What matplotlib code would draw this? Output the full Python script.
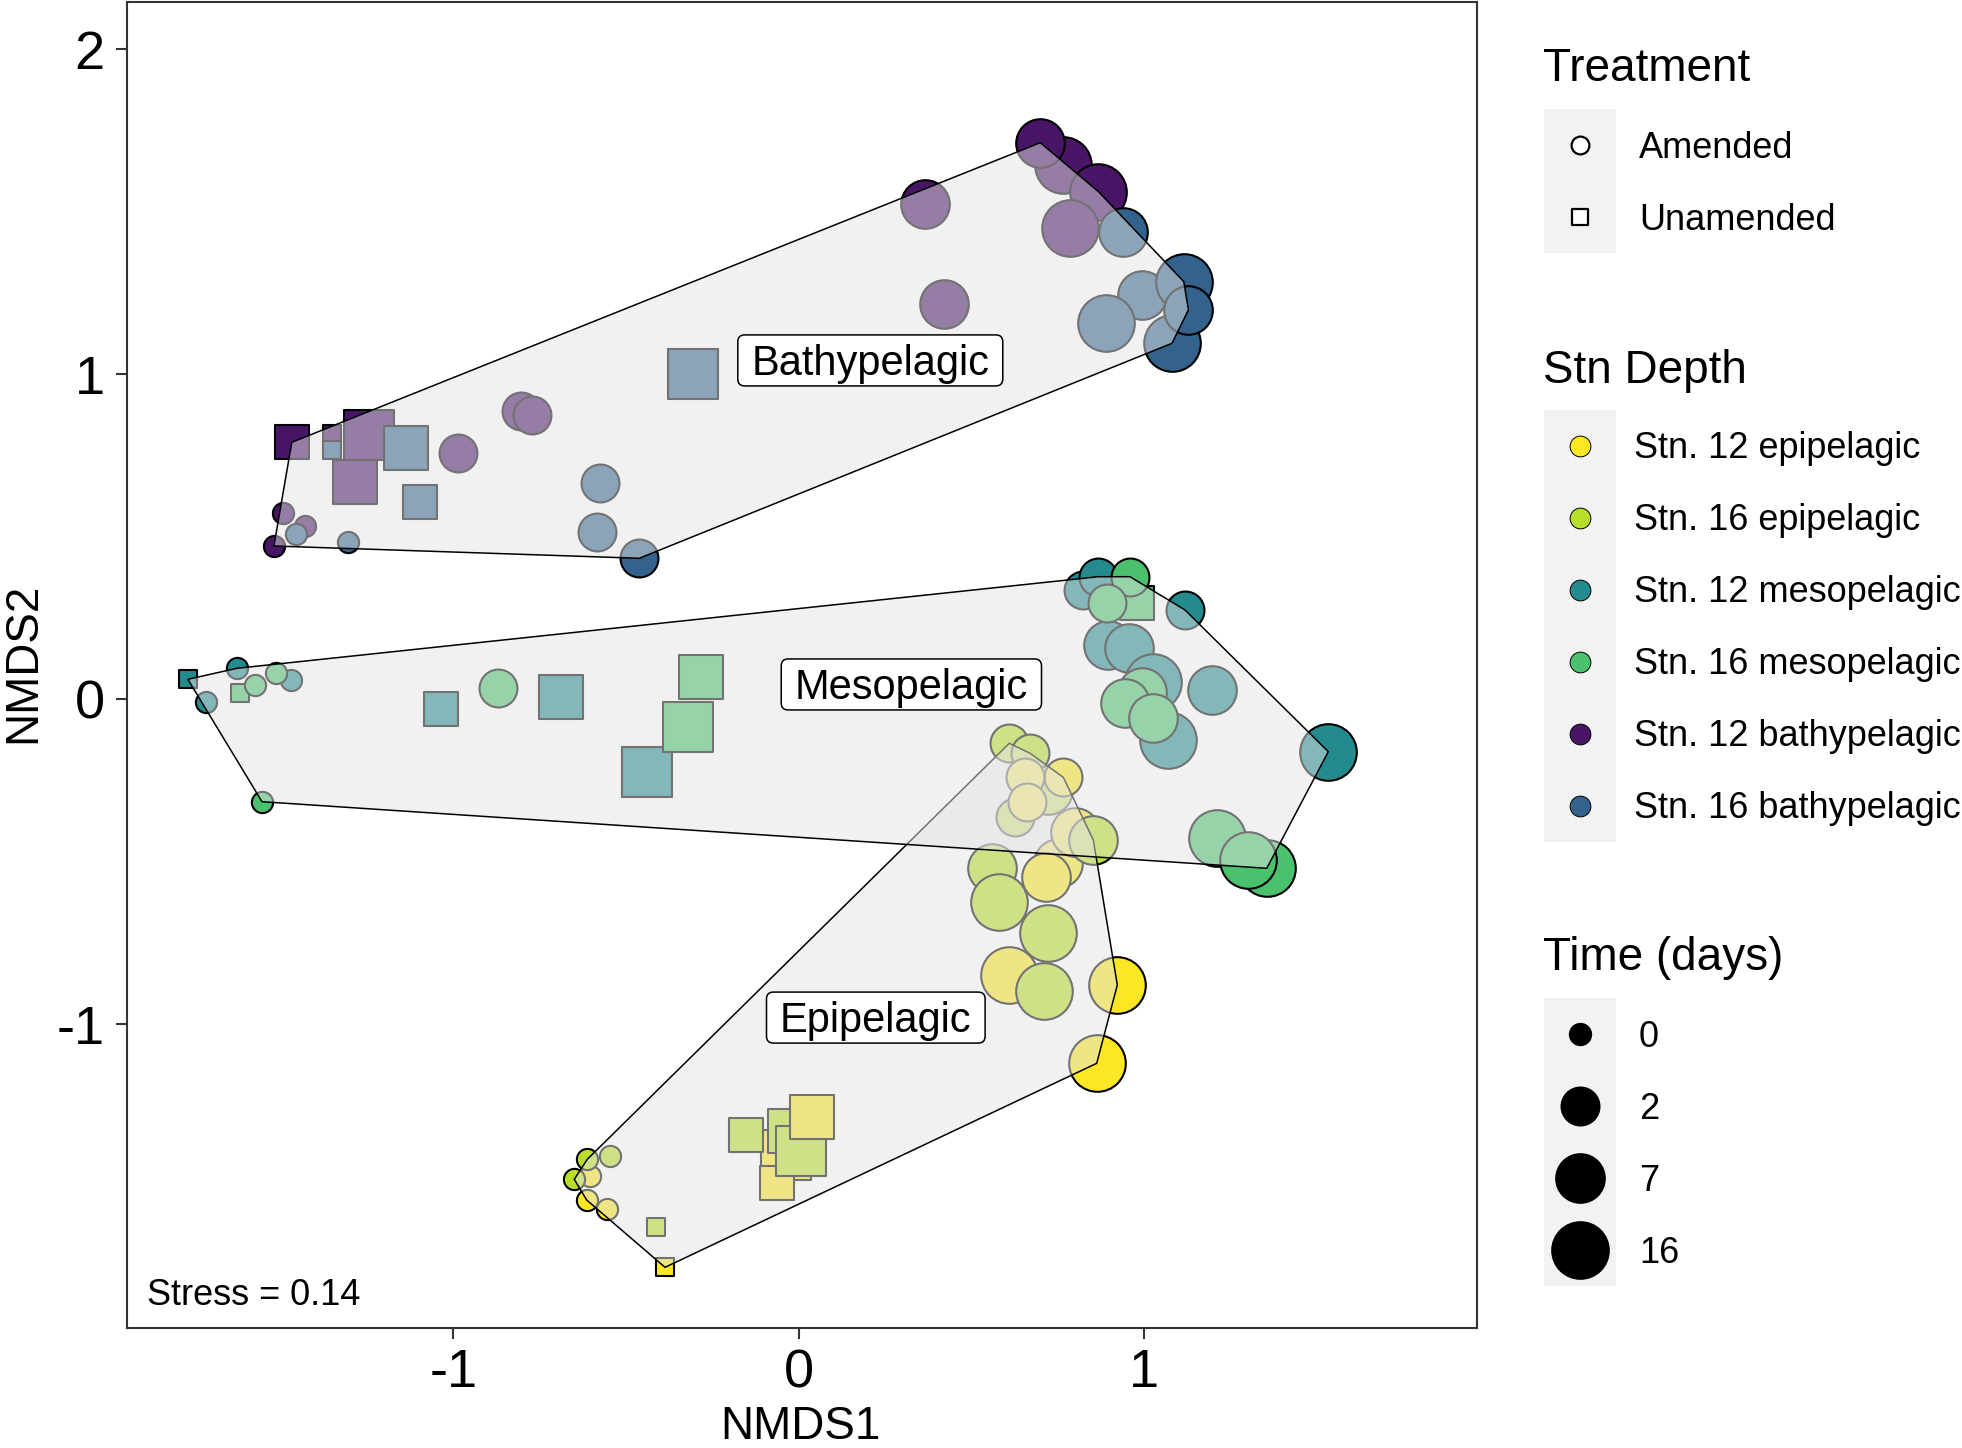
import matplotlib
matplotlib.use("Agg")
import matplotlib.pyplot as plt
from matplotlib.patches import Polygon, FancyBboxPatch, Rectangle
import numpy as np

plt.rcParams['font.family'] = ['Liberation Sans', 'DejaVu Sans']

# ---------------- data ----------------
zone_names = {"epi": "Epipelagic", "meso": "Mesopelagic", "bathy": "Bathypelagic"}
stn_levels = [(12, "epi"), (16, "epi"), (12, "meso"), (16, "meso"), (12, "bathy"), (16, "bathy")]
stn_colors = ["#FDE725", "#B8DE29", "#238A8D", "#4AC16D", "#481567", "#33638D"]
treatment_levels = ["Amended", "Unamended"]
time_levels = [0, 2, 7, 16]

zone_label_text = ["Bathypelagic", "Mesopelagic", "Epipelagic"]
zone_label_x = [0.207, 0.326, 0.223]
zone_label_y = [1.043, 0.046, -0.979]
stress_value = 0.14

# NMDS scores (drawing order)
nmds1 = [
    -1.4926, -1.4295, -1.5201, -0.9861, -0.8054, -0.7721, 0.7660, 0.6994, 0.8679, 0.7848, 0.3658, 0.4214,
    -1.4683, -1.3530, -1.2453, -1.2853,
    -1.3507, -1.1379, -1.0970, -0.3067,
    -1.4570, -1.3052, -0.5760, -0.5838, -0.4619, 0.9930, 0.9401, 0.8902, 1.1150, 1.0808, 1.1283,
    -1.7692, -1.0376, -0.6898, -0.4390,
    -1.6270, -1.7162, -1.4706, 0.8239, 0.8674, 1.1184, 0.8963, 0.9571, 1.1958, 1.0266, 1.0683, 1.5334,
    -1.6169, 0.9786, -0.2824, -0.3200,
    -1.5754, -1.5132, -1.5546, -0.8708, 0.9592, 0.8917, 0.9930, 0.9447, 1.0249, 1.2103, 1.3551, 1.3018,
    -0.0362, -0.1535, -0.0255, -0.0631, 0.0072, 0.0391, -0.3875, -0.4144,
    -0.6047, -0.6143, -0.5563, -0.6125, -0.5468, -0.6502,
    0.6096, 0.6696, 0.6261, 0.7226,
    0.7660, 0.6551, 0.6600, 0.7515, 0.7159, 0.7999,
    0.5586, 0.8529, 0.6096, 0.9224, 0.8627, 0.5806, 0.7226, 0.7101,
]
nmds2 = [
    0.5726, 0.5345, 0.4720, 0.7572, 0.8874, 0.8742, 1.6443, 1.7129, 1.5622, 1.4495, 1.5234, 1.2166,
    0.7911, 0.8157, 0.8145, 0.6689,
    0.7665, 0.7745, 0.6065, 1.0012,
    0.5089, 0.4834, 0.6668, 0.5160, 0.4342, 1.2443, 1.4391, 1.1591, 1.2852, 1.0957, 1.1982,
    0.0618, -0.0305, 0.0065, -0.2243,
    0.0957, -0.0071, 0.0597, 0.3366, 0.3775, 0.2751, 0.1674, 0.1572, 0.0289, 0.0545, -0.1249, -0.1609,
    0.0206, 0.2957, 0.0680, -0.0840,
    0.0443, 0.0803, -0.3148, 0.0342, 0.3775, 0.2957, 0.0237, -0.0120, -0.0582, -0.4274, -0.5197, -0.4942,
    -1.4028, -1.3412, -1.3289, -1.4889, -1.3905, -1.2849, -1.7474, -1.6243,
    -1.4655, -1.5403, -1.5689, -1.4151, -1.4049, -1.4766,
    -0.1351, -0.1658, -0.3609, -0.2788,
    -0.2397, -0.2397, -0.3148, -0.5043, -0.5455, -0.4071,
    -0.5197, -0.4326, -0.8480, -0.8788, -1.1197, -0.6225, -0.7178, -0.8963,
]
station = [
    12, 12, 12, 12, 12, 12, 12, 12, 12, 12, 12, 12,
    12, 12, 12, 12,
    16, 16, 16, 16,
    16, 16, 16, 16, 16, 16, 16, 16, 16, 16, 16,
    12, 12, 12, 12,
    12, 12, 12, 12, 12, 12, 12, 12, 12, 12, 12, 12,
    16, 16, 16, 16,
    16, 16, 16, 16, 16, 16, 16, 16, 16, 16, 16, 16,
    12, 16, 16, 12, 16, 12, 12, 16,
    12, 12, 12, 16, 16, 16,
    16, 16, 16, 16,
    12, 12, 12, 12, 12, 12,
    16, 16, 12, 12, 12, 16, 16, 16,
]
zone = (["bathy"] * 31) + (["meso"] * 32) + (["epi"] * 32)
treatment = (
    ["Amended"] * 12 + ["Unamended"] * 8 + ["Amended"] * 11 +
    ["Unamended"] * 4 + ["Amended"] * 12 + ["Unamended"] * 4 + ["Amended"] * 12 +
    ["Unamended"] * 8 + ["Amended"] * 24
)
time_days = [
    0, 0, 0, 2, 2, 2, 16, 7, 16, 16, 7, 7,
    2, 0, 16, 7,
    0, 7, 2, 16,
    0, 0, 2, 2, 2, 7, 7, 16, 16, 16, 7,
    0, 2, 7, 16,
    0, 0, 0, 2, 2, 2, 7, 7, 7, 16, 16, 16,
    0, 2, 7, 16,
    0, 0, 0, 2, 2, 2, 7, 7, 7, 16, 16, 16,
    16, 2, 7, 2, 16, 7, 0, 0,
    0, 0, 0, 0, 0, 0,
    2, 2, 2, 7,
    2, 2, 2, 7, 7, 7,
    7, 7, 16, 16, 16, 16, 16, 16,
]

# ---------------- style ----------------
W, H, DPI = 1962, 1448, 100
PX = 72.0 / DPI                 # points per pixel
size_outer_px = {0: 23.3, 2: 40.0, 7: 50.7, 16: 58.7}
edge_lw = 1.5


def circle_s(outer_px, lw_pt):
    d = (outer_px - lw_pt / PX) * PX
    return d * d


color_of = {lv: c for lv, c in zip(stn_levels, stn_colors)}

fig = plt.figure(figsize=(W / DPI, H / DPI), dpi=DPI)
ax_left, ax_right, ax_top, ax_bottom = 126.7, 1476.5, 2.0, 1327.7
ax = fig.add_axes([ax_left / W, 1 - ax_bottom / H, (ax_right - ax_left) / W, (ax_bottom - ax_top) / H])
ax.set_xlim(-1.9464, 1.9626)
ax.set_ylim(-1.9332, 2.1458)

# points
for i in range(len(nmds1)):
    col = color_of[(station[i], zone[i])]
    s = circle_s(size_outer_px[time_days[i]], edge_lw)
    if treatment[i] == "Amended":
        ax.scatter(nmds1[i], nmds2[i], s=s, marker='o', facecolor=col, edgecolor='black',
                   linewidths=edge_lw, zorder=2)
    else:
        ax.scatter(nmds1[i], nmds2[i], s=s * 0.785, marker='s', facecolor=col, edgecolor='black',
                   linewidths=edge_lw, zorder=2)


# convex hulls per depth zone
def convex_hull(points):
    pts = sorted(set(points))
    if len(pts) <= 2:
        return pts

    def cross(o, a, b):
        return (a[0] - o[0]) * (b[1] - o[1]) - (a[1] - o[1]) * (b[0] - o[0])
    lower = []
    for p in pts:
        while len(lower) >= 2 and cross(lower[-2], lower[-1], p) <= 0:
            lower.pop()
        lower.append(p)
    upper = []
    for p in reversed(pts):
        while len(upper) >= 2 and cross(upper[-2], upper[-1], p) <= 0:
            upper.pop()
        upper.append(p)
    return lower[:-1] + upper[:-1]


for k, z in enumerate(["bathy", "epi", "meso"]):
    pts = [(nmds1[i], nmds2[i]) for i in range(len(nmds1)) if zone[i] == z]
    hull = convex_hull(pts)
    poly = Polygon(hull, closed=True, facecolor=(0.898, 0.898, 0.898, 0.5),
                   edgecolor='black', linewidth=1.1, zorder=3 + k * 0.1)
    ax.add_patch(poly)

# axes styling
for sp in ax.spines.values():
    sp.set_color('#333333')
    sp.set_linewidth(1.5)
    sp.set_zorder(10)
ax.set_xticks([-1, 0, 1])
ax.set_xticklabels(['-1', '0', '1'])
ax.set_yticks([-1, 0, 1, 2])
ax.set_yticklabels(['-1', '0', '1', '2'])
ax.tick_params(axis='both', direction='out', length=11 * PX, width=1.5, color='#333333',
               labelsize=39, labelcolor='black')
ax.tick_params(axis='x', pad=7.0)
ax.tick_params(axis='y', pad=8.0)

# stress annotation
ax.text(-1.888, -1.8634, f"Stress = {stress_value}", fontsize=26, ha='left', va='baseline', zorder=6)

# zone labels (geom_label-like)
label_fs = 30
em_px = label_fs / PX
xscale = (ax_right - ax_left) / (1.9626 + 1.9464)
yscale = (ax_bottom - ax_top) / (2.1458 + 1.9332)
label_texts = []
for txt, lx, ly in zip(zone_label_text, zone_label_x, zone_label_y):
    base_y = ly - (0.716 * em_px / 2) / yscale
    t = ax.text(lx, base_y, txt, fontsize=label_fs, ha='center', va='baseline', zorder=8)
    label_texts.append((t, lx, ly))

fig.canvas.draw()
renderer = fig.canvas.get_renderer()
for t, lx, ly in label_texts:
    bb = t.get_window_extent(renderer)
    w_data = (bb.width + 27) / xscale
    h_data = 51 / yscale
    box = FancyBboxPatch((lx - w_data / 2, ly - h_data / 2), w_data, h_data,
                         boxstyle="round,pad=0,rounding_size=0.02",
                         facecolor='white', edgecolor='black', linewidth=1.1, zorder=7,
                         mutation_aspect=xscale / yscale)
    ax.add_patch(box)

# axis titles
fig.text(800 / W, 1 - 1439 / H, "NMDS1", fontsize=33, ha='center', va='baseline')
fig.text(35 / W, 1 - 663 / H, "NMDS2", fontsize=33, ha='center', va='baseline',
         rotation=90, rotation_mode='anchor')

# ---------------- legends ----------------
leg = fig.add_axes([1500 / W, 0, (W - 1500) / W, 1])
leg.set_xlim(1500, W)
leg.set_ylim(H, 0)
leg.axis('off')
key_x, key_w, key_h = 1544, 72, 72
kc = key_x + key_w / 2
title_fs, lab_fs = 33, 26

# Treatment
leg.text(1543, 81.4, "Treatment", fontsize=title_fs, va='baseline', ha='left')
top = 108.9
leg.add_patch(Rectangle((key_x, top), key_w, key_h * len(treatment_levels), facecolor='#F2F2F2',
                        edgecolor='none'))
for j, lv in enumerate(treatment_levels):
    cy = top + key_h * (j + 0.5)
    if lv == "Amended":
        leg.scatter(kc, cy, s=circle_s(20, 1.6), marker='o', facecolor='white', edgecolor='black',
                    linewidths=1.6)
    else:
        leg.scatter(kc, cy, s=circle_s(17.3, 1.6), marker='s', facecolor='white', edgecolor='black',
                    linewidths=1.6)
    leg.text(1639, cy + 13, lv, fontsize=lab_fs, va='baseline', ha='left')

# Stn Depth
leg.text(1543, 383.1, "Stn Depth", fontsize=title_fs, va='baseline', ha='left')
top = 409.5
leg.add_patch(Rectangle((key_x, top), key_w, key_h * len(stn_levels), facecolor='#F2F2F2',
                        edgecolor='none'))
for j, (lv, col) in enumerate(zip(stn_levels, stn_colors)):
    cy = top + key_h * (j + 0.5)
    leg.scatter(kc, cy, s=circle_s(21.7, 0.7), marker='o', facecolor=col, edgecolor='black',
                linewidths=0.7)
    leg.text(1634, cy + 13, f"Stn. {lv[0]} {zone_names[lv[1]].lower()}", fontsize=lab_fs,
             va='baseline', ha='left')

# Time
leg.text(1543, 970, "Time (days)", fontsize=title_fs, va='baseline', ha='left')
top = 998.3
leg.add_patch(Rectangle((key_x, top), key_w, key_h * len(time_levels), facecolor='#F2F2F2',
                        edgecolor='none'))
for j, tv in enumerate(time_levels):
    cy = top + key_h * (j + 0.5)
    leg.scatter(kc, cy, s=circle_s(size_outer_px[tv], edge_lw), marker='o', facecolor='black',
                edgecolor='black', linewidths=edge_lw)
    leg.text(1639, cy + 13, str(tv), fontsize=lab_fs, va='baseline', ha='left')

fig.savefig("out.png", dpi=DPI)
